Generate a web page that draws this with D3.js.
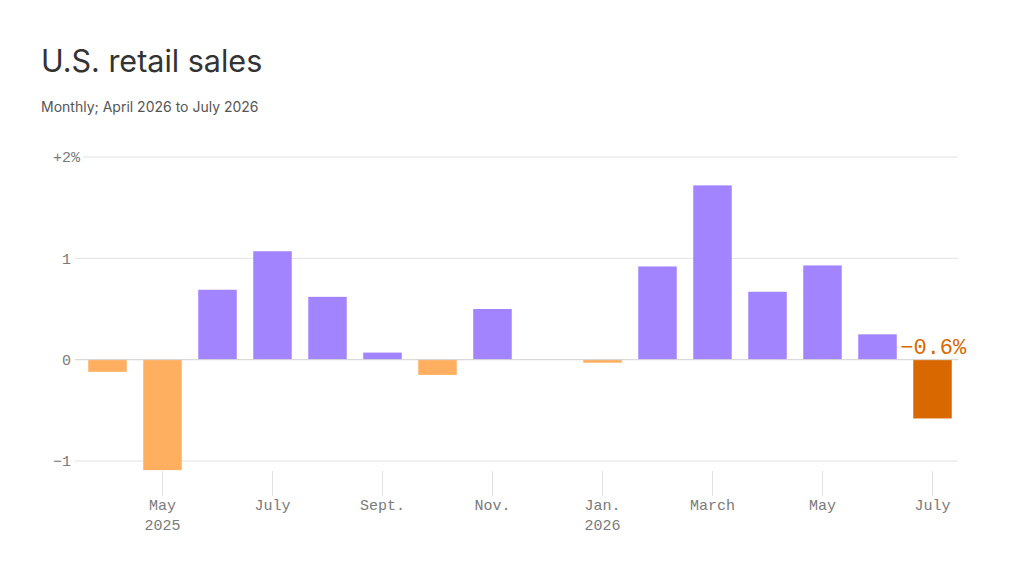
<!DOCTYPE html>
<html lang="en">
<head>
    <meta charset="UTF-8">
    <title>U.S. retail sales</title>
    <script src="https://d3js.org/d3.v7.min.js"></script>
    <style>
        body {
            margin: 0;
            background-color: #ffffff;
        }
        .title {
            font-family: Inter, "Noto Sans", sans-serif;
            font-size: 30.5px;
            fill: #333333;
        }
        .subtitle {
            font-family: Inter, "Noto Sans", sans-serif;
            font-size: 14px;
            fill: #555555;
        }
        .tick-label {
            font-family: "Liberation Mono", monospace;
            font-size: 15px;
            fill: #7a7a7a;
        }
        .grid-line {
            stroke: #e2e2e2;
            stroke-width: 1;
        }
    </style>
</head>
<body>
    <svg width="1024" height="576"></svg>
    <script>
        // Data
        const months = ["Apr 2025", "May 2025", "Jun 2025", "Jul 2025", "Aug 2025", "Sep 2025",
                        "Oct 2025", "Nov 2025", "Dec 2025", "Jan 2026", "Feb 2026", "Mar 2026",
                        "Apr 2026", "May 2026", "Jun 2026", "Jul 2026"];
        const values = [-0.12, -1.09, 0.69, 1.07, 0.62, 0.07, -0.15, 0.5, 0, -0.03,
                        0.92, 1.72, 0.67, 0.93, 0.25, -0.58];
        const yTicks = [-1, 0, 1, 2];
        const xTickMonths = ["May 2025", "Jul 2025", "Sep 2025", "Nov 2025", "Jan 2026", "Mar 2026", "May 2026", "Jul 2026"];
        const xTickLabels = ["May", "July", "Sept.", "Nov.", "Jan.", "March", "May", "July"];
        const xTickYears = ["2025", "", "", "", "2026", "", "", ""];

        const svg = d3.select("svg");

        // Title and subtitle
        svg.append("text").attr("class", "title")
           .attr("x", 41).attr("y", 72)
           .text("U.S. retail sales");
        svg.append("text").attr("class", "subtitle")
           .attr("x", 41).attr("y", 112)
           .text("Monthly; April 2026 to July 2026");

        // Scales
        const x = d3.scaleBand()
                    .domain(months)
                    .range([80, 960])
                    .paddingInner(0.3)
                    .paddingOuter(0.15);

        const y = d3.scaleLinear()
                    .domain([-1, 2])
                    .range([461, 157]);

        // Y grid and labels
        const yg = svg.append("g");
        yTicks.forEach(t => {
            const num = t === 2 ? "+2" : (t < 0 ? "\u2212" + Math.abs(t) : String(t));
            yg.append("text")
              .attr("class", "tick-label")
              .attr("x", 71)
              .attr("y", y(t))
              .attr("dy", "0.35em")
              .attr("text-anchor", "end")
              .text(num);
            let lineStart = 75;
            if (t === 2) {
                const pct = yg.append("text")
                              .attr("class", "tick-label")
                              .attr("x", 71)
                              .attr("y", y(t))
                              .attr("dy", "0.35em")
                              .text("%");
                lineStart = 71 + pct.node().getComputedTextLength() + 3;
            }
            yg.insert("line", ":first-child")
              .attr("class", "grid-line")
              .attr("x1", lineStart).attr("x2", 958)
              .attr("y1", y(t)).attr("y2", y(t));
        });

        // X ticks
        const xg = svg.append("g");
        xTickMonths.forEach((m, i) => {
            const cx = x(m) + x.bandwidth() / 2;
            xg.append("line")
              .attr("x1", cx).attr("x2", cx)
              .attr("y1", 471).attr("y2", 496)
              .attr("stroke", "#e2e2e2");
            xg.append("text").attr("class", "tick-label")
              .attr("x", cx).attr("y", 510)
              .attr("text-anchor", "middle")
              .text(xTickLabels[i]);
            if (xTickYears[i]) {
                xg.append("text").attr("class", "tick-label")
                  .attr("x", cx).attr("y", 530)
                  .attr("text-anchor", "middle")
                  .text(xTickYears[i]);
            }
        });

        // Bars
        const last = months.length - 1;
        svg.append("g")
           .selectAll("rect")
           .data(values)
           .join("rect")
           .attr("x", (d, i) => x(months[i]))
           .attr("width", x.bandwidth())
           .attr("y", d => y(Math.max(0, d)))
           .attr("height", d => Math.abs(y(d) - y(0)))
           .attr("fill", (d, i) => i === last ? "#d96800" : (d < 0 ? "#ffaf5f" : "#a384ff"));

        // Zero line on top
        svg.append("line")
           .attr("x1", 75).attr("x2", 958)
           .attr("y1", y(0)).attr("y2", y(0))
           .attr("stroke", "#d8d8d8");

        // Last value label
        svg.append("text")
           .attr("x", x(months[last]) - 13)
           .attr("y", y(0) - 6)
           .style("font-family", "'Liberation Mono', monospace")
           .style("font-size", "22px")
           .attr("fill", "#d96800")
           .text("\u22120.6%");
    </script>
</body>
</html>
